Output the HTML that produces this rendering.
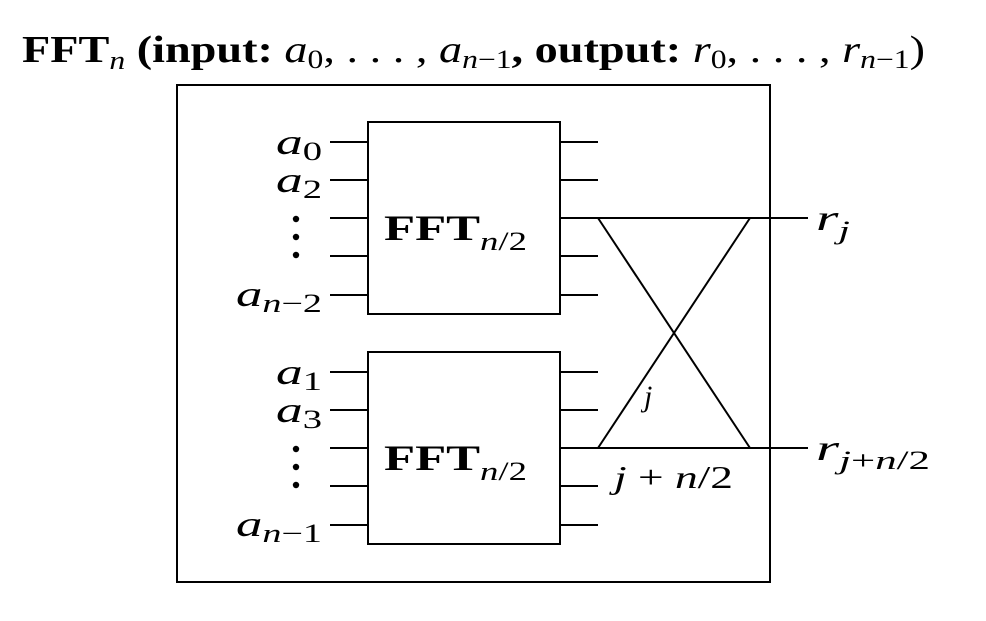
<!DOCTYPE html>
<html><head><style>
body{margin:0;background:#fff;width:986px;height:616px;overflow:hidden}
svg text{font-family:"Liberation Serif",serif;fill:#000}
</style></head><body>
<svg width="986" height="616" xmlns="http://www.w3.org/2000/svg">
<text x="22" y="62" font-size="38" textLength="903" lengthAdjust="spacingAndGlyphs"><tspan font-weight="bold">FFT</tspan><tspan font-style="italic" font-size="26" dy="7">n</tspan><tspan dy="-7" font-weight="bold"> (input: </tspan><tspan font-style="italic">a</tspan><tspan font-size="26" dy="6">0</tspan><tspan dy="-6">, . . . , </tspan><tspan font-style="italic">a</tspan><tspan font-size="26" font-style="italic" dy="6">n</tspan><tspan font-size="26" dy="0">−1</tspan><tspan dy="-6" font-weight="bold">, output: </tspan><tspan font-style="italic">r</tspan><tspan font-size="26" dy="6">0</tspan><tspan dy="-6">, . . . , </tspan><tspan font-style="italic">r</tspan><tspan font-size="26" font-style="italic" dy="6">n</tspan><tspan font-size="26">−1</tspan><tspan dy="-6">)</tspan></text>
<g stroke="#000" stroke-width="2" fill="none">
<rect x="177" y="85" width="593" height="497"/>
<rect x="368" y="122" width="192" height="192"/>
<rect x="368" y="352" width="192" height="192"/>
<path d="M330 142H368M330 180H368M330 218H368M330 256H368M330 295H368
M560 142H598M560 180H598M560 218H808M560 256H598M560 295H598
M330 372H368M330 410H368M330 448H368M330 486H368M330 525H368
M560 372H598M560 410H598M560 448H808M560 486H598M560 525H598
M598 218L750 448M598 448L750 218"/>
</g>
<g font-size="36">
<text x="384" y="240" font-weight="bold" textLength="143" lengthAdjust="spacingAndGlyphs">FFT<tspan font-size="26" font-style="italic" font-weight="normal" dy="10">n</tspan><tspan font-size="26" font-weight="normal">/2</tspan></text>
<text x="384" y="470" font-weight="bold" textLength="143" lengthAdjust="spacingAndGlyphs">FFT<tspan font-size="26" font-style="italic" font-weight="normal" dy="10">n</tspan><tspan font-size="26" font-weight="normal">/2</tspan></text>
<g font-style="italic">
<text x="276" y="154" textLength="46" lengthAdjust="spacingAndGlyphs">a<tspan font-size="26" font-style="normal" dy="6">0</tspan></text>
<text x="276" y="192" textLength="46" lengthAdjust="spacingAndGlyphs">a<tspan font-size="26" font-style="normal" dy="6">2</tspan></text>
<text x="236" y="306" textLength="86" lengthAdjust="spacingAndGlyphs">a<tspan font-size="26" dy="6">n</tspan><tspan font-size="26" font-style="normal">−2</tspan></text>
<text x="276" y="384" textLength="46" lengthAdjust="spacingAndGlyphs">a<tspan font-size="26" font-style="normal" dy="6">1</tspan></text>
<text x="276" y="422" textLength="46" lengthAdjust="spacingAndGlyphs">a<tspan font-size="26" font-style="normal" dy="6">3</tspan></text>
<text x="236" y="536" textLength="86" lengthAdjust="spacingAndGlyphs">a<tspan font-size="26" dy="6">n</tspan><tspan font-size="26" font-style="normal">−1</tspan></text>
<text x="816" y="230" textLength="34" lengthAdjust="spacingAndGlyphs">r<tspan font-size="26" dy="9">j</tspan></text>
<text x="816" y="460" textLength="114" lengthAdjust="spacingAndGlyphs">r<tspan font-size="26" dy="9">j</tspan><tspan font-size="26" font-style="normal">+</tspan><tspan font-size="26">n</tspan><tspan font-size="26" font-style="normal">/2</tspan></text>
<text x="644" y="406" font-size="30">j</text>
<text x="614" y="488" font-size="32" textLength="119" lengthAdjust="spacingAndGlyphs">j <tspan font-style="normal">+</tspan> n<tspan font-style="normal">/2</tspan></text>
</g>
</g>
<g fill="#000">
<circle cx="296" cy="219" r="3.2"/><circle cx="296" cy="237" r="3.2"/><circle cx="296" cy="255" r="3.2"/>
<circle cx="296" cy="449" r="3.2"/><circle cx="296" cy="467" r="3.2"/><circle cx="296" cy="485" r="3.2"/>
</g>
</svg>
</body></html>
